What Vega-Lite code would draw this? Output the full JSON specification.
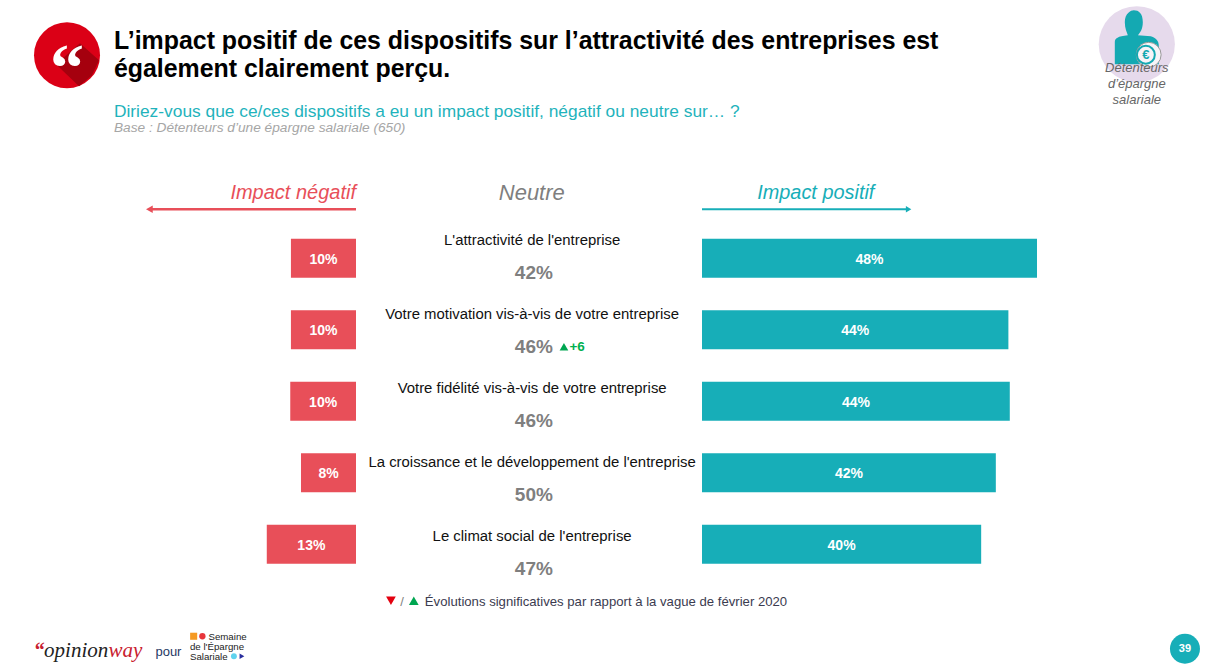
{
"$schema":"https://vega.github.io/schema/vega-lite/v6.json",
"padding":{"left":34,"top":6,"right":0,"bottom":0},
"background":"white",
"spacing":0,
"bounds":"flush",
"config":{"view":{"stroke":null},"text":{"font":"Liberation Sans"}},
"datasets":{"lignes":[
{"rang":"L'attractivité de l'entreprise","negatif":9.7,"neutre":42,"positif":48,"txtNeg":"10%","txtNeu":"42%","txtPos":"48%"},
{"rang":"Votre motivation vis-à-vis de votre entreprise","negatif":9.7,"neutre":46,"positif":43.9,"txtNeg":"10%","txtNeu":"46%","txtPos":"44%","evolution":"+6"},
{"rang":"Votre fidélité vis-à-vis de votre entreprise","negatif":9.8,"neutre":46,"positif":44.1,"txtNeg":"10%","txtNeu":"46%","txtPos":"44%"},
{"rang":"La croissance et le développement de l'entreprise","negatif":8.2,"neutre":50,"positif":42.1,"txtNeg":"8%","txtNeu":"50%","txtPos":"42%"},
{"rang":"Le climat social de l'entreprise","negatif":13.3,"neutre":47,"positif":40,"txtNeg":"13%","txtNeu":"47%","txtPos":"40%"}
]},
"hconcat":[
{"width":322,"height":643.5,
"resolve":{"scale":{"x":"independent"}},
"encoding":{"y":{"field":"rang","type":"nominal","axis":null,"scale":{"paddingInner":0,"paddingOuter":0,"domain":["titre","question","entete","L'attractivité de l'entreprise","Votre motivation vis-à-vis de votre entreprise","Votre fidélité vis-à-vis de votre entreprise","La croissance et le développement de l'entreprise","Le climat social de l'entreprise","note"]}}},
"layer":[
{"data":{"name":"lignes"},"mark":{"type":"bar","size":39,"color":"#E84F59"},"encoding":{"x":{"field":"negatif","type":"quantitative","axis":null,"scale":{"domain":[0,48],"reverse":true}}}},
{"data":{"name":"lignes"},"mark":{"type":"text","color":"white","fontWeight":"bold","fontSize":14,"dy":1.5},"encoding":{"x":{"field":"negatif","type":"quantitative","axis":null,"scale":{"domain":[0,96],"reverse":true}},"text":{"field":"txtNeg","type":"nominal"}}},
{"data":{"values":[{"rang":"entete","debut":0,"etendue":30.8}]},"mark":{"type":"rule","color":"#E84F59","strokeWidth":2.5,"yOffset":22.5},"encoding":{"x":{"field":"debut","type":"quantitative","axis":null,"scale":{"domain":[0,48],"reverse":true}},"x2":{"field":"etendue"}}},
{"data":{"values":[{"rang":"entete","etendue":30.8}]},"mark":{"type":"point","shape":"triangle-left","filled":true,"opacity":1,"size":60,"color":"#E84F59","yOffset":22.5},"encoding":{"x":{"field":"etendue","type":"quantitative","axis":null,"scale":{"domain":[0,48],"reverse":true}}}},
{"data":{"values":[{"rang":"entete","libelle":"Impact négatif"}]},"mark":{"type":"text","align":"right","fontSize":20,"fontStyle":"italic","color":"#E84F59","dy":6},"encoding":{"x":{"datum":0,"type":"quantitative","axis":null,"scale":{"domain":[0,48],"reverse":true}},"text":{"field":"libelle","type":"nominal"}}},
{"data":{"values":[{"rang":"titre"}]},"mark":{"type":"point","shape":"circle","filled":true,"opacity":1,"size":4356,"color":"#DB0016","yOffset":11.5},"encoding":{"x":{"datum":43.08,"type":"quantitative","axis":null,"scale":{"domain":[0,48],"reverse":true}}}},
{"data":{"values":[{"rang":"titre"}]},"mark":{"type":"point","shape":"M0.13,-0.12L0.32,0.05L0.25,0.2L0.12,0.31L-0.11,0.09Z","filled":true,"opacity":1,"size":40000,"color":"#A5000E","yOffset":11.5},"encoding":{"x":{"datum":43.08,"type":"quantitative","axis":null,"scale":{"domain":[0,48],"reverse":true}}}},
{"data":{"values":[{"rang":"titre","libelle":"“"}]},"mark":{"type":"text","font":"Liberation Serif","fontWeight":"bold","fontSize":68,"color":"white","dy":27},"encoding":{"x":{"datum":43.08,"type":"quantitative","axis":null,"scale":{"domain":[0,48],"reverse":true}},"text":{"field":"libelle","type":"nominal"}}},
{"data":{"values":[{"rang":"titre","libelle":"L’impact positif de ces dispositifs sur l’attractivité des entreprises est\négalement clairement perçu."}]},"mark":{"type":"text","lineBreak":"\n","lineHeight":28,"align":"left","fontWeight":"bold","fontSize":24.9,"color":"#000000","dy":-2},"encoding":{"x":{"datum":36.08,"type":"quantitative","axis":null,"scale":{"domain":[0,48],"reverse":true}},"text":{"field":"libelle","type":"nominal"}}},
{"data":{"values":[{"rang":"question","libelle":"Diriez-vous que ce/ces dispositifs a eu un impact positif, négatif ou neutre sur… ?"}]},"mark":{"type":"text","align":"left","fontSize":17.35,"color":"#1FB3BC","dy":-3},"encoding":{"x":{"datum":36.08,"type":"quantitative","axis":null,"scale":{"domain":[0,48],"reverse":true}},"text":{"field":"libelle","type":"nominal"}}},
{"data":{"values":[{"rang":"question","libelle":"Base : Détenteurs d’une épargne salariale (650)"}]},"mark":{"type":"text","align":"left","fontSize":13.7,"fontStyle":"italic","color":"#A6A6A6","dy":13},"encoding":{"x":{"datum":36.08,"type":"quantitative","axis":null,"scale":{"domain":[0,48],"reverse":true}},"text":{"field":"libelle","type":"nominal"}}},
{"data":{"values":[{"rang":"note","libelle":"“"}]},"mark":{"type":"text","align":"left","font":"Liberation Serif","fontWeight":"bold","fontSize":20,"color":"#C8202F","dy":35},"encoding":{"x":{"datum":47.9,"type":"quantitative","axis":null,"scale":{"domain":[0,48],"reverse":true}},"text":{"field":"libelle","type":"nominal"}}},
{"data":{"values":[{"rang":"note","libelle":"opinion"}]},"mark":{"type":"text","align":"left","font":"Liberation Serif","fontStyle":"italic","fontSize":21,"color":"#222222","dy":35},"encoding":{"x":{"datum":46.5,"type":"quantitative","axis":null,"scale":{"domain":[0,48],"reverse":true}},"text":{"field":"libelle","type":"nominal"}}},
{"data":{"values":[{"rang":"note","libelle":"way"}]},"mark":{"type":"text","align":"left","font":"Liberation Serif","fontStyle":"italic","fontSize":21,"color":"#C8202F","dy":35},"encoding":{"x":{"datum":36.9,"type":"quantitative","axis":null,"scale":{"domain":[0,48],"reverse":true}},"text":{"field":"libelle","type":"nominal"}}},
{"data":{"values":[{"rang":"note","libelle":"pour"}]},"mark":{"type":"text","align":"left","fontSize":13,"color":"#1F3864","dy":36},"encoding":{"x":{"datum":29.9,"type":"quantitative","axis":null,"scale":{"domain":[0,48],"reverse":true}},"text":{"field":"libelle","type":"nominal"}}},
{"data":{"values":[{"rang":"note","libelle":"Semaine"}]},"mark":{"type":"text","align":"left","fontSize":9.7,"color":"#222222","dy":21},"encoding":{"x":{"datum":22,"type":"quantitative","axis":null,"scale":{"domain":[0,48],"reverse":true}},"text":{"field":"libelle","type":"nominal"}}},
{"data":{"values":[{"rang":"note","libelle":"de l'Épargne\nSalariale"}]},"mark":{"type":"text","lineBreak":"\n","lineHeight":10,"align":"left","fontSize":9.7,"color":"#222222","dy":31},"encoding":{"x":{"datum":24.75,"type":"quantitative","axis":null,"scale":{"domain":[0,48],"reverse":true}},"text":{"field":"libelle","type":"nominal"}}},
{"data":{"values":[{"rang":"note"}]},"mark":{"type":"point","shape":"square","filled":true,"opacity":1,"size":50,"color":"#F59A23","yOffset":20.5},"encoding":{"x":{"datum":24.2,"type":"quantitative","axis":null,"scale":{"domain":[0,48],"reverse":true}}}},
{"data":{"values":[{"rang":"note"}]},"mark":{"type":"point","shape":"circle","filled":true,"opacity":1,"size":40,"color":"#E8353B","yOffset":20.5},"encoding":{"x":{"datum":22.9,"type":"quantitative","axis":null,"scale":{"domain":[0,48],"reverse":true}}}},
{"data":{"values":[{"rang":"note"}]},"mark":{"type":"point","shape":"circle","filled":true,"opacity":1,"size":35,"color":"#5FD3EE","yOffset":40.5},"encoding":{"x":{"datum":18.2,"type":"quantitative","axis":null,"scale":{"domain":[0,48],"reverse":true}}}},
{"data":{"values":[{"rang":"note"}]},"mark":{"type":"point","shape":"triangle-right","filled":true,"opacity":1,"size":30,"color":"#2A2F9E","yOffset":40.5},"encoding":{"x":{"datum":17,"type":"quantitative","axis":null,"scale":{"domain":[0,48],"reverse":true}}}}
]},
{"width":346,"height":643.5,
"resolve":{"scale":{"y":"independent"}},
"encoding":{"y":{"field":"rang","type":"nominal","axis":null,"scale":{"paddingInner":0,"paddingOuter":0,"domain":["titre","question","entete","L'attractivité de l'entreprise","Votre motivation vis-à-vis de votre entreprise","Votre fidélité vis-à-vis de votre entreprise","La croissance et le développement de l'entreprise","Le climat social de l'entreprise","note"]}}},
"layer":[
{"data":{"name":"lignes"},"mark":{"type":"text","fontSize":14.9,"color":"#111111"},"encoding":{"y":{"field":"rang","type":"nominal","axis":null,"scale":{"paddingInner":0,"paddingOuter":0,"range":[195.75,565.75],"domain":["L'attractivité de l'entreprise","Votre motivation vis-à-vis de votre entreprise","Votre fidélité vis-à-vis de votre entreprise","La croissance et le développement de l'entreprise","Le climat social de l'entreprise"]}},"x":{"datum":50.9,"type":"quantitative","axis":null,"scale":{"domain":[0,100]}},"text":{"field":"rang","type":"nominal"}}},
{"data":{"name":"lignes"},"mark":{"type":"text","fontSize":19,"fontWeight":"bold","color":"#7F7F7F"},"encoding":{"y":{"field":"rang","type":"nominal","axis":null,"scale":{"paddingInner":0,"paddingOuter":0,"range":[227.75,597.75],"domain":["L'attractivité de l'entreprise","Votre motivation vis-à-vis de votre entreprise","Votre fidélité vis-à-vis de votre entreprise","La croissance et le développement de l'entreprise","Le climat social de l'entreprise"]}},"x":{"datum":51.4,"type":"quantitative","axis":null,"scale":{"domain":[0,100]}},"text":{"field":"txtNeu","type":"nominal"}}},
{"data":{"name":"lignes"},"transform":[{"filter":"datum.evolution"}],"mark":{"type":"point","shape":"triangle-up","filled":true,"opacity":1,"size":75,"color":"#00A651","yOffset":17},"encoding":{"x":{"datum":60.1,"type":"quantitative","axis":null,"scale":{"domain":[0,100]}}}},
{"data":{"name":"lignes"},"transform":[{"filter":"datum.evolution"}],"mark":{"type":"text","align":"left","fontSize":13.5,"fontWeight":"bold","color":"#00B050","dy":17},"encoding":{"x":{"datum":61.7,"type":"quantitative","axis":null,"scale":{"domain":[0,100]}},"text":{"field":"evolution","type":"nominal"}}},
{"data":{"values":[{"rang":"entete","libelle":"Neutre"}]},"mark":{"type":"text","fontSize":22,"fontStyle":"italic","color":"#7F7F7F","dy":6},"encoding":{"x":{"datum":50.8,"type":"quantitative","axis":null,"scale":{"domain":[0,100]}},"text":{"field":"libelle","type":"nominal"}}},
{"data":{"values":[{"rang":"note"}]},"mark":{"type":"point","shape":"triangle-down","filled":true,"opacity":1,"size":95,"color":"#E3000F","yOffset":-15},"encoding":{"x":{"datum":10.1,"type":"quantitative","axis":null,"scale":{"domain":[0,100]}}}},
{"data":{"values":[{"rang":"note","libelle":"/"}]},"mark":{"type":"text","fontSize":13,"color":"#7F7F7F","dy":-14},"encoding":{"x":{"datum":13.3,"type":"quantitative","axis":null,"scale":{"domain":[0,100]}},"text":{"field":"libelle","type":"nominal"}}},
{"data":{"values":[{"rang":"note"}]},"mark":{"type":"point","shape":"triangle-up","filled":true,"opacity":1,"size":95,"color":"#00A651","yOffset":-15},"encoding":{"x":{"datum":16.7,"type":"quantitative","axis":null,"scale":{"domain":[0,100]}}}},
{"data":{"values":[{"rang":"note","libelle":"Évolutions significatives par rapport à la vague de février 2020"}]},"mark":{"type":"text","align":"left","fontSize":13.15,"color":"#3B3B4F","dy":-14},"encoding":{"x":{"datum":19.9,"type":"quantitative","axis":null,"scale":{"domain":[0,100]}},"text":{"field":"libelle","type":"nominal"}}}
]},
{"width":506,"height":643.5,
"resolve":{"scale":{"x":"independent"}},
"encoding":{"y":{"field":"rang","type":"nominal","axis":null,"scale":{"paddingInner":0,"paddingOuter":0,"domain":["titre","question","entete","L'attractivité de l'entreprise","Votre motivation vis-à-vis de votre entreprise","Votre fidélité vis-à-vis de votre entreprise","La croissance et le développement de l'entreprise","Le climat social de l'entreprise","note"]}}},
"layer":[
{"data":{"name":"lignes"},"mark":{"type":"bar","size":39,"color":"#17AEB8"},"encoding":{"x":{"field":"positif","type":"quantitative","axis":null,"scale":{"domain":[0,72.5]}}}},
{"data":{"name":"lignes"},"mark":{"type":"text","color":"white","fontWeight":"bold","fontSize":14,"dy":1.5},"encoding":{"x":{"field":"positif","type":"quantitative","axis":null,"scale":{"domain":[0,145]}},"text":{"field":"txtPos","type":"nominal"}}},
{"data":{"values":[{"rang":"entete","debut":0,"etendue":29.6}]},"mark":{"type":"rule","color":"#17AEB8","strokeWidth":2,"yOffset":22.5},"encoding":{"x":{"field":"debut","type":"quantitative","axis":null,"scale":{"domain":[0,72.5]}},"x2":{"field":"etendue"}}},
{"data":{"values":[{"rang":"entete","etendue":29.6}]},"mark":{"type":"point","shape":"triangle-right","filled":true,"opacity":1,"size":40,"color":"#17AEB8","yOffset":22.5},"encoding":{"x":{"field":"etendue","type":"quantitative","axis":null,"scale":{"domain":[0,72.5]}}}},
{"data":{"values":[{"rang":"entete","libelle":"Impact positif"}]},"mark":{"type":"text","fontSize":19.9,"fontStyle":"italic","color":"#17AEB8","dy":6},"encoding":{"x":{"datum":16.3,"type":"quantitative","axis":null,"scale":{"domain":[0,72.5]}},"text":{"field":"libelle","type":"nominal"}}},
{"data":{"values":[{"rang":"titre"}]},"mark":{"type":"point","shape":"circle","filled":true,"opacity":1,"size":5800,"color":"#E6DAEC","yOffset":0.5},"encoding":{"x":{"datum":62.3,"type":"quantitative","axis":null,"scale":{"domain":[0,72.5]}}}},
{"data":{"values":[{"rang":"titre"}]},"mark":{"type":"point","shape":"M-0.12,-0.22C-0.12,-0.31,-0.06,-0.34,-0.03,-0.34C0.02,-0.34,0.06,-0.31,0.06,-0.22C0.06,-0.15,0.03,-0.11,0.01,-0.09L0.14,-0.08C0.2,-0.06,0.22,-0.03,0.22,0.02L0.22,0.2L-0.22,0.2L-0.22,-0.02C-0.22,-0.06,-0.19,-0.08,-0.09,-0.09C-0.1,-0.12,-0.12,-0.16,-0.12,-0.22Z","filled":true,"opacity":1,"size":40000,"color":"#14A9B2","yOffset":0.5},"encoding":{"x":{"datum":62.3,"type":"quantitative","axis":null,"scale":{"domain":[0,72.5]}}}},
{"data":{"values":[{"rang":"titre"}]},"mark":{"type":"point","shape":"circle","filled":true,"opacity":1,"size":620,"color":"#F7F4F8","stroke":"#999999","strokeWidth":1,"yOffset":11},"encoding":{"x":{"datum":64,"type":"quantitative","axis":null,"scale":{"domain":[0,72.5]}}}},
{"data":{"values":[{"rang":"titre"}]},"mark":{"type":"point","shape":"circle","filled":false,"opacity":1,"size":320,"stroke":"#14A9B2","strokeWidth":2,"yOffset":11},"encoding":{"x":{"datum":63.6,"type":"quantitative","axis":null,"scale":{"domain":[0,72.5]}}}},
{"data":{"values":[{"rang":"titre","libelle":"€"}]},"mark":{"type":"text","fontSize":13,"fontWeight":"bold","color":"#14A9B2","dy":11},"encoding":{"x":{"datum":63.6,"type":"quantitative","axis":null,"scale":{"domain":[0,72.5]}},"text":{"field":"libelle","type":"nominal"}}},
{"data":{"values":[{"rang":"titre","libelle":"Détenteurs\nd’épargne\nsalariale"}]},"mark":{"type":"text","lineBreak":"\n","lineHeight":16,"fontSize":13,"fontStyle":"italic","color":"#666666","dy":24},"encoding":{"x":{"datum":62.3,"type":"quantitative","axis":null,"scale":{"domain":[0,72.5]}},"text":{"field":"libelle","type":"nominal"}}},
{"data":{"values":[{"rang":"note"}]},"mark":{"type":"point","shape":"circle","filled":true,"opacity":1,"size":900,"color":"#17AEB8","yOffset":33},"encoding":{"x":{"datum":69.2,"type":"quantitative","axis":null,"scale":{"domain":[0,72.5]}}}},
{"data":{"values":[{"rang":"note","libelle":"39"}]},"mark":{"type":"text","fontSize":11,"fontWeight":"bold","color":"white","dy":33},"encoding":{"x":{"datum":69.2,"type":"quantitative","axis":null,"scale":{"domain":[0,72.5]}},"text":{"field":"libelle","type":"nominal"}}}
]}
]
}
